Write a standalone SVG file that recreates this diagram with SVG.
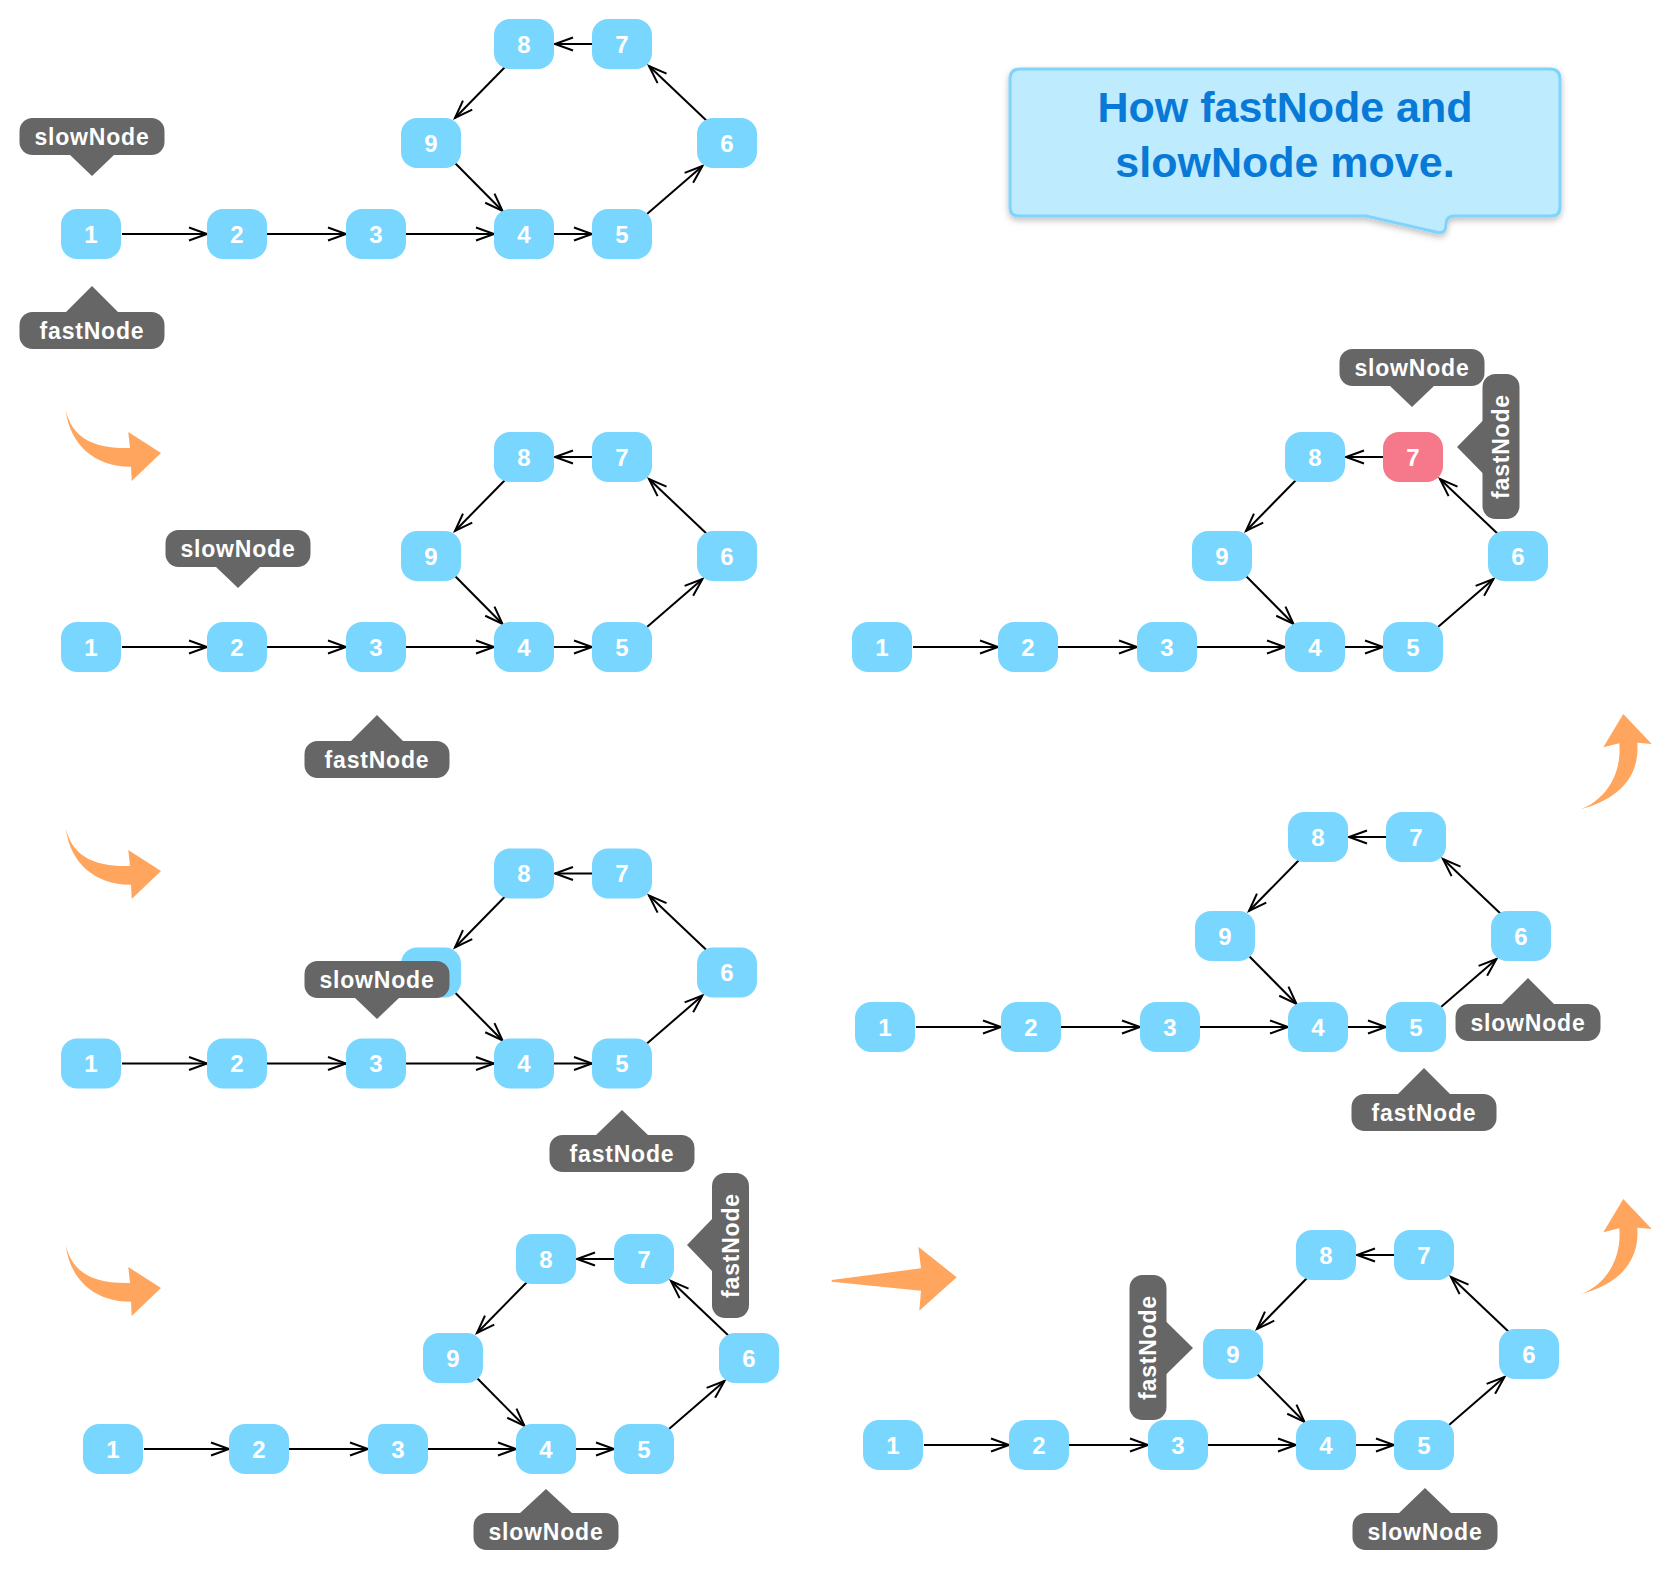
<svg xmlns="http://www.w3.org/2000/svg" width="1670" height="1570" viewBox="0 0 1670 1570">
<style>
.n rect{fill:#79D6FE}
.n.red rect{fill:#F6798B}
.n text,.lb text{font-family:"Liberation Sans",Arial,sans-serif;font-weight:bold;fill:#fff;text-anchor:middle}
.n text{font-size:24px}
.lb{fill:#666}
.lb text{font-size:23px;letter-spacing:0.8px}
.e path{fill:none;stroke:#000;stroke-width:2;marker-end:url(#ah)}
.o{fill:#FFA55D}
.title{font-family:"Liberation Sans",Arial,sans-serif;font-weight:bold;font-size:43px;fill:#0879D6;text-anchor:middle}
</style>
<defs>
<marker id="ah" markerUnits="userSpaceOnUse" markerWidth="22" markerHeight="16" refX="19" refY="8" orient="auto">
<path d="M1,1.5 L19,8 L1,14.5" fill="none" stroke="#000" stroke-width="2"/>
</marker>
<filter id="sh" x="-5%" y="-10%" width="110%" height="130%">
<feDropShadow dx="0" dy="3" stdDeviation="3" flood-color="#000" flood-opacity="0.25"/>
</filter>
</defs>
<rect width="1670" height="1570" fill="#fff"/>

<!-- title bubble -->
<g id="title">
<path d="M1020,69 H1550 Q1560,69 1560,79 V207 Q1560,216 1551,216 H1454 Q1446,216 1446,224 Q1446,235 1436,232 L1366,216 H1019 Q1010,216 1010,207 V79 Q1010,69 1020,69 Z" fill="#BEEBFE" stroke="#80D4FC" stroke-width="3" filter="url(#sh)"/>
<text class="title" x="1285" y="122">How fastNode and</text>
<text class="title" x="1285" y="177">slowNode move.</text>
</g>

<!-- orange arrows -->
<g id="arrows">
<path id="oa1" class="o" d="M65.7,410 C72,437 92,449 130,448 L128.3,432 L161,453 L131.7,481 L131,466.7 C95,467 70,445 65.7,410 Z"/>
<path id="oa2" class="o" transform="translate(0,418)" d="M65.7,410 C72,437 92,449 130,448 L128.3,432 L161,453 L131.7,481 L131,466.7 C95,467 70,445 65.7,410 Z"/>
<path id="oa3" class="o" transform="translate(0,835)" d="M65.7,410 C72,437 92,449 130,448 L128.3,432 L161,453 L131.7,481 L131,466.7 C95,467 70,445 65.7,410 Z"/>
<polygon id="oa4" class="o" points="831.7,1280 921,1268.3 918.3,1246.7 956.7,1277.3 919.3,1310.7 921,1290.7 831.7,1281.7"/>
<path id="oa5" class="o" transform="translate(0,485)" d="M1580.7,809.3 C1615,800 1640,780 1637.3,742.7 L1651.7,744 L1623.3,714 L1603.3,747.3 L1619.3,743.3 C1622,775 1605,800 1580.7,809.3 Z"/>
<path id="oa6" class="o" d="M1580.7,809.3 C1615,800 1640,780 1637.3,742.7 L1651.7,744 L1623.3,714 L1603.3,747.3 L1619.3,743.3 C1622,775 1605,800 1580.7,809.3 Z"/>
</g>

<!-- panel 1 -->
<g id="p1" transform="translate(91,234)">
<g id="p1-edges" class="e">
<path d="M31,0 H116"/><path d="M176,0 H255"/><path d="M315,0 H403"/><path d="M463,0 H501"/>
<path d="M556,-20 L611.5,-68"/><path d="M617,-112 L558,-168"/><path d="M501,-190 H464"/>
<path d="M415,-168 L364,-116"/><path d="M364,-71 L411.5,-23"/>
</g>
<g id="p1n1" class="n"><rect x="-30" y="-25" width="60" height="50" rx="16"/><text x="0" y="8.5">1</text></g>
<g id="p1n2" class="n"><rect x="116" y="-25" width="60" height="50" rx="16"/><text x="146" y="8.5">2</text></g>
<g id="p1n3" class="n"><rect x="255" y="-25" width="60" height="50" rx="16"/><text x="285" y="8.5">3</text></g>
<g id="p1n4" class="n"><rect x="403" y="-25" width="60" height="50" rx="16"/><text x="433" y="8.5">4</text></g>
<g id="p1n5" class="n"><rect x="501" y="-25" width="60" height="50" rx="16"/><text x="531" y="8.5">5</text></g>
<g id="p1n6" class="n"><rect x="606" y="-116" width="60" height="50" rx="16"/><text x="636" y="-82.5">6</text></g>
<g id="p1n7" class="n"><rect x="501" y="-215" width="60" height="50" rx="16"/><text x="531" y="-181.5">7</text></g>
<g id="p1n8" class="n"><rect x="403" y="-215" width="60" height="50" rx="16"/><text x="433" y="-181.5">8</text></g>
<g id="p1n9" class="n"><rect x="310" y="-116" width="60" height="50" rx="16"/><text x="340" y="-82.5">9</text></g>
</g>

<!-- panel 2 -->
<g id="p2" transform="translate(91,647)">
<g id="p2-edges" class="e">
<path d="M31,0 H116"/><path d="M176,0 H255"/><path d="M315,0 H403"/><path d="M463,0 H501"/>
<path d="M556,-20 L611.5,-68"/><path d="M617,-112 L558,-168"/><path d="M501,-190 H464"/>
<path d="M415,-168 L364,-116"/><path d="M364,-71 L411.5,-23"/>
</g>
<g id="p2n1" class="n"><rect x="-30" y="-25" width="60" height="50" rx="16"/><text x="0" y="8.5">1</text></g>
<g id="p2n2" class="n"><rect x="116" y="-25" width="60" height="50" rx="16"/><text x="146" y="8.5">2</text></g>
<g id="p2n3" class="n"><rect x="255" y="-25" width="60" height="50" rx="16"/><text x="285" y="8.5">3</text></g>
<g id="p2n4" class="n"><rect x="403" y="-25" width="60" height="50" rx="16"/><text x="433" y="8.5">4</text></g>
<g id="p2n5" class="n"><rect x="501" y="-25" width="60" height="50" rx="16"/><text x="531" y="8.5">5</text></g>
<g id="p2n6" class="n"><rect x="606" y="-116" width="60" height="50" rx="16"/><text x="636" y="-82.5">6</text></g>
<g id="p2n7" class="n"><rect x="501" y="-215" width="60" height="50" rx="16"/><text x="531" y="-181.5">7</text></g>
<g id="p2n8" class="n"><rect x="403" y="-215" width="60" height="50" rx="16"/><text x="433" y="-181.5">8</text></g>
<g id="p2n9" class="n"><rect x="310" y="-116" width="60" height="50" rx="16"/><text x="340" y="-82.5">9</text></g>
</g>

<!-- panel 3 -->
<g id="p3" transform="translate(91,1063.5)">
<g id="p3-edges" class="e">
<path d="M31,0 H116"/><path d="M176,0 H255"/><path d="M315,0 H403"/><path d="M463,0 H501"/>
<path d="M556,-20 L611.5,-68"/><path d="M617,-112 L558,-168"/><path d="M501,-190 H464"/>
<path d="M415,-168 L364,-116"/><path d="M364,-71 L411.5,-23"/>
</g>
<g id="p3n1" class="n"><rect x="-30" y="-25" width="60" height="50" rx="16"/><text x="0" y="8.5">1</text></g>
<g id="p3n2" class="n"><rect x="116" y="-25" width="60" height="50" rx="16"/><text x="146" y="8.5">2</text></g>
<g id="p3n3" class="n"><rect x="255" y="-25" width="60" height="50" rx="16"/><text x="285" y="8.5">3</text></g>
<g id="p3n4" class="n"><rect x="403" y="-25" width="60" height="50" rx="16"/><text x="433" y="8.5">4</text></g>
<g id="p3n5" class="n"><rect x="501" y="-25" width="60" height="50" rx="16"/><text x="531" y="8.5">5</text></g>
<g id="p3n6" class="n"><rect x="606" y="-116" width="60" height="50" rx="16"/><text x="636" y="-82.5">6</text></g>
<g id="p3n7" class="n"><rect x="501" y="-215" width="60" height="50" rx="16"/><text x="531" y="-181.5">7</text></g>
<g id="p3n8" class="n"><rect x="403" y="-215" width="60" height="50" rx="16"/><text x="433" y="-181.5">8</text></g>
<g id="p3n9" class="n"><rect x="310" y="-116" width="60" height="50" rx="16"/><text x="340" y="-82.5">9</text></g>
</g>

<!-- panel 4 -->
<g id="p4" transform="translate(113,1449)">
<g id="p4-edges" class="e">
<path d="M31,0 H116"/><path d="M176,0 H255"/><path d="M315,0 H403"/><path d="M463,0 H501"/>
<path d="M556,-20 L611.5,-68"/><path d="M617,-112 L558,-168"/><path d="M501,-190 H464"/>
<path d="M415,-168 L364,-116"/><path d="M364,-71 L411.5,-23"/>
</g>
<g id="p4n1" class="n"><rect x="-30" y="-25" width="60" height="50" rx="16"/><text x="0" y="8.5">1</text></g>
<g id="p4n2" class="n"><rect x="116" y="-25" width="60" height="50" rx="16"/><text x="146" y="8.5">2</text></g>
<g id="p4n3" class="n"><rect x="255" y="-25" width="60" height="50" rx="16"/><text x="285" y="8.5">3</text></g>
<g id="p4n4" class="n"><rect x="403" y="-25" width="60" height="50" rx="16"/><text x="433" y="8.5">4</text></g>
<g id="p4n5" class="n"><rect x="501" y="-25" width="60" height="50" rx="16"/><text x="531" y="8.5">5</text></g>
<g id="p4n6" class="n"><rect x="606" y="-116" width="60" height="50" rx="16"/><text x="636" y="-82.5">6</text></g>
<g id="p4n7" class="n"><rect x="501" y="-215" width="60" height="50" rx="16"/><text x="531" y="-181.5">7</text></g>
<g id="p4n8" class="n"><rect x="403" y="-215" width="60" height="50" rx="16"/><text x="433" y="-181.5">8</text></g>
<g id="p4n9" class="n"><rect x="310" y="-116" width="60" height="50" rx="16"/><text x="340" y="-82.5">9</text></g>
</g>

<!-- panel 5 -->
<g id="p5" transform="translate(893,1445)">
<g id="p5-edges" class="e">
<path d="M31,0 H116"/><path d="M176,0 H255"/><path d="M315,0 H403"/><path d="M463,0 H501"/>
<path d="M556,-20 L611.5,-68"/><path d="M617,-112 L558,-168"/><path d="M501,-190 H464"/>
<path d="M415,-168 L364,-116"/><path d="M364,-71 L411.5,-23"/>
</g>
<g id="p5n1" class="n"><rect x="-30" y="-25" width="60" height="50" rx="16"/><text x="0" y="8.5">1</text></g>
<g id="p5n2" class="n"><rect x="116" y="-25" width="60" height="50" rx="16"/><text x="146" y="8.5">2</text></g>
<g id="p5n3" class="n"><rect x="255" y="-25" width="60" height="50" rx="16"/><text x="285" y="8.5">3</text></g>
<g id="p5n4" class="n"><rect x="403" y="-25" width="60" height="50" rx="16"/><text x="433" y="8.5">4</text></g>
<g id="p5n5" class="n"><rect x="501" y="-25" width="60" height="50" rx="16"/><text x="531" y="8.5">5</text></g>
<g id="p5n6" class="n"><rect x="606" y="-116" width="60" height="50" rx="16"/><text x="636" y="-82.5">6</text></g>
<g id="p5n7" class="n"><rect x="501" y="-215" width="60" height="50" rx="16"/><text x="531" y="-181.5">7</text></g>
<g id="p5n8" class="n"><rect x="403" y="-215" width="60" height="50" rx="16"/><text x="433" y="-181.5">8</text></g>
<g id="p5n9" class="n"><rect x="310" y="-116" width="60" height="50" rx="16"/><text x="340" y="-82.5">9</text></g>
</g>

<!-- panel 6 -->
<g id="p6" transform="translate(885,1027)">
<g id="p6-edges" class="e">
<path d="M31,0 H116"/><path d="M176,0 H255"/><path d="M315,0 H403"/><path d="M463,0 H501"/>
<path d="M556,-20 L611.5,-68"/><path d="M617,-112 L558,-168"/><path d="M501,-190 H464"/>
<path d="M415,-168 L364,-116"/><path d="M364,-71 L411.5,-23"/>
</g>
<g id="p6n1" class="n"><rect x="-30" y="-25" width="60" height="50" rx="16"/><text x="0" y="8.5">1</text></g>
<g id="p6n2" class="n"><rect x="116" y="-25" width="60" height="50" rx="16"/><text x="146" y="8.5">2</text></g>
<g id="p6n3" class="n"><rect x="255" y="-25" width="60" height="50" rx="16"/><text x="285" y="8.5">3</text></g>
<g id="p6n4" class="n"><rect x="403" y="-25" width="60" height="50" rx="16"/><text x="433" y="8.5">4</text></g>
<g id="p6n5" class="n"><rect x="501" y="-25" width="60" height="50" rx="16"/><text x="531" y="8.5">5</text></g>
<g id="p6n6" class="n"><rect x="606" y="-116" width="60" height="50" rx="16"/><text x="636" y="-82.5">6</text></g>
<g id="p6n7" class="n"><rect x="501" y="-215" width="60" height="50" rx="16"/><text x="531" y="-181.5">7</text></g>
<g id="p6n8" class="n"><rect x="403" y="-215" width="60" height="50" rx="16"/><text x="433" y="-181.5">8</text></g>
<g id="p6n9" class="n"><rect x="310" y="-116" width="60" height="50" rx="16"/><text x="340" y="-82.5">9</text></g>
</g>

<!-- panel 7 -->
<g id="p7" transform="translate(882,647)">
<g id="p7-edges" class="e">
<path d="M31,0 H116"/><path d="M176,0 H255"/><path d="M315,0 H403"/><path d="M463,0 H501"/>
<path d="M556,-20 L611.5,-68"/><path d="M617,-112 L558,-168"/><path d="M501,-190 H464"/>
<path d="M415,-168 L364,-116"/><path d="M364,-71 L411.5,-23"/>
</g>
<g id="p7n1" class="n"><rect x="-30" y="-25" width="60" height="50" rx="16"/><text x="0" y="8.5">1</text></g>
<g id="p7n2" class="n"><rect x="116" y="-25" width="60" height="50" rx="16"/><text x="146" y="8.5">2</text></g>
<g id="p7n3" class="n"><rect x="255" y="-25" width="60" height="50" rx="16"/><text x="285" y="8.5">3</text></g>
<g id="p7n4" class="n"><rect x="403" y="-25" width="60" height="50" rx="16"/><text x="433" y="8.5">4</text></g>
<g id="p7n5" class="n"><rect x="501" y="-25" width="60" height="50" rx="16"/><text x="531" y="8.5">5</text></g>
<g id="p7n6" class="n"><rect x="606" y="-116" width="60" height="50" rx="16"/><text x="636" y="-82.5">6</text></g>
<g id="p7n7" class="n red"><rect x="501" y="-215" width="60" height="50" rx="16"/><text x="531" y="-181.5">7</text></g>
<g id="p7n8" class="n"><rect x="403" y="-215" width="60" height="50" rx="16"/><text x="433" y="-181.5">8</text></g>
<g id="p7n9" class="n"><rect x="310" y="-116" width="60" height="50" rx="16"/><text x="340" y="-82.5">9</text></g>
</g>

<!-- pointer labels -->
<g id="lb1s" class="lb"><rect x="19.5" y="118" width="145" height="37" rx="13"/><polygon points="69,154 115,154 92,176"/><text x="92" y="144.5">slowNode</text></g>
<g id="lb1f" class="lb"><rect x="19.5" y="312" width="145" height="37" rx="13"/><polygon points="65,313 119,313 92,286"/><text x="92" y="338.5">fastNode</text></g>
<g id="lb2s" class="lb"><rect x="165.5" y="530" width="145" height="37" rx="13"/><polygon points="215,566 261,566 238,588"/><text x="238" y="556.5">slowNode</text></g>
<g id="lb2f" class="lb"><rect x="304.5" y="741" width="145" height="37" rx="13"/><polygon points="350,742 404,742 377,715"/><text x="377" y="767.5">fastNode</text></g>
<g id="lb3s" class="lb"><rect x="304.5" y="961" width="145" height="37" rx="13"/><polygon points="354,997 400,997 377,1019"/><text x="377" y="987.5">slowNode</text></g>
<g id="lb3f" class="lb"><rect x="549.5" y="1135" width="145" height="37" rx="13"/><polygon points="595,1136 649,1136 622,1110"/><text x="622" y="1161.5">fastNode</text></g>
<g id="lb4s" class="lb"><rect x="473.5" y="1513" width="145" height="37" rx="13"/><polygon points="519,1514 573,1514 546,1489"/><text x="546" y="1539.5">slowNode</text></g>
<g id="lb4f" class="lb"><rect x="712" y="1173" width="37" height="145" rx="13"/><polygon points="713,1218 713,1272 687,1245"/><text transform="translate(730.5,1245.5) rotate(-90)" x="0" y="8">fastNode</text></g>
<g id="lb5s" class="lb"><rect x="1352.5" y="1513" width="145" height="37" rx="13"/><polygon points="1398,1514 1452,1514 1425,1488"/><text x="1425" y="1539.5">slowNode</text></g>
<g id="lb5f" class="lb"><rect x="1129.5" y="1275" width="37" height="145" rx="13"/><polygon points="1165.5,1321 1165.5,1375 1193,1348"/><text transform="translate(1148,1347.5) rotate(-90)" x="0" y="8">fastNode</text></g>
<g id="lb6s" class="lb"><rect x="1455.5" y="1004" width="145" height="37" rx="13"/><polygon points="1501,1005 1555,1005 1528,978"/><text x="1528" y="1030.5">slowNode</text></g>
<g id="lb6f" class="lb"><rect x="1351.5" y="1094" width="145" height="37" rx="13"/><polygon points="1397,1095 1451,1095 1424,1068"/><text x="1424" y="1120.5">fastNode</text></g>
<g id="lb7s" class="lb"><rect x="1339.5" y="349" width="145" height="37" rx="13"/><polygon points="1389,385 1435,385 1412,407"/><text x="1412" y="375.5">slowNode</text></g>
<g id="lb7f" class="lb"><rect x="1482.5" y="374" width="37" height="145" rx="13"/><polygon points="1483.5,420 1483.5,474 1457,447"/><text transform="translate(1501,446.5) rotate(-90)" x="0" y="8">fastNode</text></g>
</svg>
